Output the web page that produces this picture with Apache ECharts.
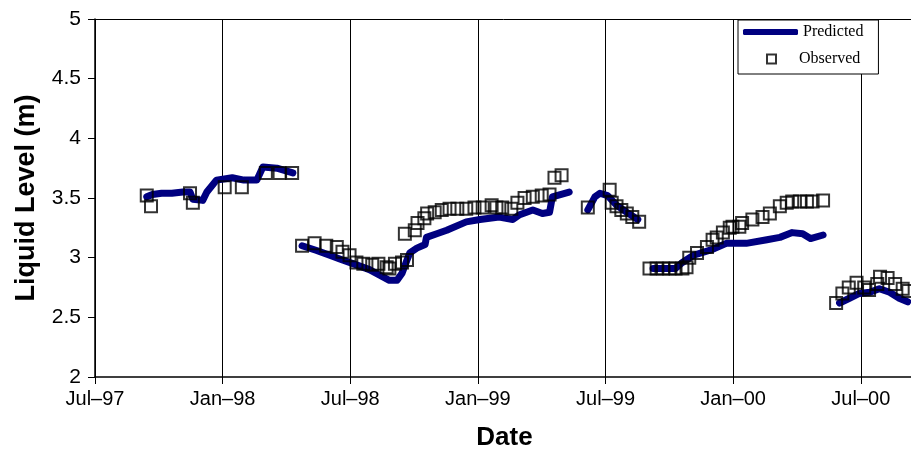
<!DOCTYPE html>
<html>
<head>
<meta charset="utf-8">
<script src="https://cdn.jsdelivr.net/npm/echarts@6/dist/echarts.min.js"></script>
<style>
  html, body { margin: 0; padding: 0; background: #fff; }
  #main { width: 911px; height: 451px; }
</style>
</head>
<body>
<div id="main"></div>
<script>
// tick labels every six months, starting Jul 1997
const xTickLabels = ['Jul–97', 'Jan–98', 'Jul–98', 'Jan–99', 'Jul–99', 'Jan–00', 'Jul–00'];

// predicted liquid level (null = gap between runs)
const predictedDates = [
  '1997-09-14', '1997-09-22', '1997-10-05', '1997-10-20', '1997-11-05', '1997-11-15', '1997-11-19',
  '1997-12-03', '1997-12-09', '1997-12-23', '1998-01-15', '1998-02-01', '1998-02-18', '1998-02-26',
  '1998-03-18', '1998-04-10',
  '1998-04-17',
  '1998-04-23', '1998-05-14', '1998-06-02', '1998-06-20', '1998-07-10', '1998-07-29', '1998-08-17',
  '1998-08-27', '1998-09-07', '1998-09-14', '1998-09-21', '1998-09-25', '1998-10-05', '1998-10-17',
  '1998-10-19', '1998-11-03', '1998-11-17', '1998-12-15', '1999-01-04', '1999-02-01', '1999-02-19',
  '1999-02-28', '1999-03-19', '1999-04-02', '1999-04-12', '1999-04-16', '1999-05-10',
  '1999-05-25',
  '1999-06-06', '1999-06-16', '1999-06-23', '1999-07-04', '1999-07-17', '1999-08-01', '1999-08-17',
  '1999-08-28',
  '1999-09-08', '1999-10-10', '1999-10-20', '1999-11-05', '1999-12-02', '1999-12-22', '2000-01-20',
  '2000-02-18', '2000-03-07', '2000-03-25', '2000-04-09', '2000-04-20', '2000-05-08',
  '2000-05-20',
  '2000-06-01', '2000-06-15', '2000-06-29', '2000-07-14', '2000-07-28', '2000-08-12', '2000-08-26',
  '2000-09-07'
];
const predictedLevels = [
  3.51, 3.53, 3.54, 3.54, 3.55, 3.55, 3.49,
  3.48, 3.55, 3.65, 3.67, 3.65, 3.65, 3.76,
  3.75, 3.71,
  null,
  3.10, 3.06, 3.02, 2.98, 2.94, 2.90, 2.84,
  2.81, 2.81, 2.87, 2.98, 3.04, 3.08, 3.11,
  3.17, 3.20, 3.23, 3.30, 3.32, 3.34, 3.32,
  3.36, 3.40, 3.37, 3.38, 3.51, 3.55,
  null,
  3.40, 3.51, 3.54, 3.52, 3.44, 3.38, 3.32,
  null,
  2.91, 2.91, 2.96, 3.02, 3.07, 3.12, 3.12,
  3.15, 3.17, 3.21, 3.20, 3.16, 3.19,
  null,
  2.62, 2.66, 2.70, 2.71, 2.74, 2.71, 2.66,
  2.63
];

// observed liquid level
const observedDates = [
  '1997-09-14', '1997-09-20', '1997-11-15', '1997-11-19', '1998-01-04', '1998-01-29', '1998-03-02',
  '1998-03-22', '1998-04-09',
  '1998-04-23', '1998-05-11', '1998-05-28', '1998-06-12', '1998-06-20', '1998-06-30', '1998-07-10',
  '1998-07-20', '1998-08-02', '1998-08-11', '1998-08-23', '1998-08-27', '1998-09-04', '1998-09-14',
  '1998-09-21', '1998-09-18', '1998-10-02', '1998-10-06', '1998-10-16', '1998-10-20', '1998-10-31',
  '1998-11-10', '1998-11-21', '1998-12-02', '1998-12-15', '1998-12-27', '1999-01-08', '1999-01-21',
  '1999-01-28', '1999-02-05', '1999-02-17', '1999-02-25', '1999-03-07', '1999-03-19', '1999-04-01',
  '1999-04-12', '1999-04-19', '1999-04-29',
  '1999-06-06', '1999-07-07', '1999-07-10', '1999-07-17', '1999-07-24', '1999-08-01', '1999-08-09',
  '1999-08-19',
  '1999-09-03', '1999-09-13', '1999-09-22', '1999-10-01', '1999-10-10', '1999-10-20', '1999-10-26',
  '1999-10-30', '1999-11-10', '1999-11-24', '1999-12-02', '1999-12-08', '1999-12-17', '1999-12-27',
  '1999-12-31', '2000-01-10', '2000-01-14', '2000-01-29', '2000-02-12', '2000-02-22', '2000-03-07',
  '2000-03-17', '2000-03-25', '2000-04-05', '2000-04-15', '2000-04-23', '2000-05-08',
  '2000-05-27', '2000-06-05', '2000-06-14', '2000-06-25', '2000-07-06', '2000-07-13', '2000-07-25',
  '2000-07-29', '2000-08-09', '2000-08-20', '2000-08-31', '2000-09-08'
];
const observedLevels = [
  3.52, 3.43, 3.54, 3.46, 3.59, 3.59, 3.71,
  3.71, 3.71,
  3.10, 3.12, 3.10, 3.09, 3.05, 3.02, 2.96,
  2.95, 2.94, 2.95, 2.92, 2.91, 2.95, 2.96,
  2.98, 3.20, 3.23, 3.29, 3.33, 3.37, 3.38,
  3.40, 3.41, 3.41, 3.41, 3.42, 3.42, 3.44,
  3.42, 3.42, 3.41, 3.46, 3.50, 3.51, 3.52,
  3.53, 3.67, 3.69,
  3.42, 3.57, 3.46, 3.43, 3.40, 3.37, 3.34,
  3.30,
  2.91, 2.91, 2.91, 2.91, 2.91, 2.91, 2.92,
  3.00, 3.04, 3.09, 3.15, 3.17, 3.21, 3.25,
  3.26, 3.26, 3.29, 3.32, 3.34, 3.37, 3.43,
  3.46, 3.47, 3.47, 3.47, 3.47, 3.48,
  2.62, 2.70, 2.75, 2.79, 2.75, 2.73, 2.78,
  2.84, 2.83, 2.78, 2.74, 2.72
];

// x axis is counted in months after 1 Jul 1997
function monthsFromJul97(s) {
  const [y, m, d] = s.split('-').map(Number);
  const daysInMonth = new Date(y, m, 0).getDate();
  return (y - 1997) * 12 + (m - 7) + (d - 1) / daysInMonth;
}

const predictedData = predictedDates.map((d, i) =>
  [monthsFromJul97(d), predictedLevels[i] === null ? '-' : predictedLevels[i]]);
const observedData = observedDates.map((d, i) => [monthsFromJul97(d), observedLevels[i]]);

const sans = 'Liberation Sans, Arial, sans-serif';
const serif = 'Liberation Serif, Times New Roman, serif';
const xMax = 38.5;

const chart = echarts.init(document.getElementById('main'));
chart.setOption({
  animation: false,
  backgroundColor: '#fff',
  grid: { left: 95, right: -3, top: 19, bottom: 74, outerBoundsMode: 'none', containLabel: false },
  legend: [
    {
      left: 738,
      top: 20,
      orient: 'vertical',
      data: [{ name: 'Predicted', icon: 'roundRect' }],
      itemWidth: 55,
      itemHeight: 6,
      padding: [4, 15, 34, 5],
      borderColor: '#000',
      borderWidth: 1,
      borderRadius: 0,
      backgroundColor: '#fff',
      selectedMode: false,
      textStyle: { fontFamily: serif, fontSize: 16, color: '#000' },
      z: 5
    },
    {
      left: 766,
      top: 51,
      data: [{ name: 'Observed', icon: 'rect' }],
      itemWidth: 9,
      itemHeight: 9,
      padding: 0,
      selectedMode: false,
      itemStyle: { color: 'rgba(0,0,0,0)', borderColor: '#000', borderWidth: 2 },
      textStyle: { fontFamily: serif, fontSize: 16, color: '#000', padding: [0, 0, 0, 18] },
      z: 6
    }
  ],
  xAxis: [
    {
      type: 'value',
      min: 0,
      max: xMax,
      interval: 6,
      position: 'bottom',
      name: 'Date',
      nameLocation: 'middle',
      nameGap: 48,
      nameTextStyle: { fontFamily: sans, fontSize: 26, fontWeight: 'bold', color: '#000' },
      axisLine: { lineStyle: { color: '#000', width: 1.5 } },
      axisTick: { show: true, length: 7, lineStyle: { color: '#000', width: 1 } },
      axisLabel: {
        fontFamily: sans, fontSize: 20, color: '#000', margin: 12,
        formatter: v => (v % 6 === 0 && xTickLabels[v / 6]) ? xTickLabels[v / 6] : ''
      },
      splitLine: { show: true, lineStyle: { color: '#000', width: 1 } }
    },
    {
      type: 'value',
      min: 0,
      max: xMax,
      position: 'top',
      axisLine: { show: true, lineStyle: { color: '#000', width: 1 } },
      axisTick: { show: false },
      axisLabel: { show: false },
      splitLine: { show: false }
    }
  ],
  yAxis: {
    type: 'value',
    min: 2,
    max: 5,
    interval: 0.5,
    name: 'Liquid Level (m)',
    nameLocation: 'middle',
    nameGap: 55,
    nameRotate: 90,
    nameTextStyle: { fontFamily: sans, fontSize: 27, fontWeight: 'bold', color: '#000' },
    axisLine: { show: true, lineStyle: { color: '#000', width: 1.5 } },
    axisTick: { show: true, length: 7, lineStyle: { color: '#000', width: 1 } },
    axisLabel: { fontFamily: sans, fontSize: 21, color: '#000', margin: 14 },
    splitLine: { show: false }
  },
  series: [
    {
      name: 'Predicted',
      type: 'line',
      data: predictedData,
      showSymbol: false,
      connectNulls: false,
      color: '#000080',
      lineStyle: { color: '#000080', width: 7, cap: 'round', join: 'round' },
      z: 2
    },
    {
      name: 'Observed',
      type: 'scatter',
      data: observedData,
      symbol: 'rect',
      symbolSize: 12,
      itemStyle: { color: 'rgba(0,0,0,0)', borderColor: '#000', borderWidth: 2 },
      z: 3
    }
  ]
});
</script>
</body>
</html>
